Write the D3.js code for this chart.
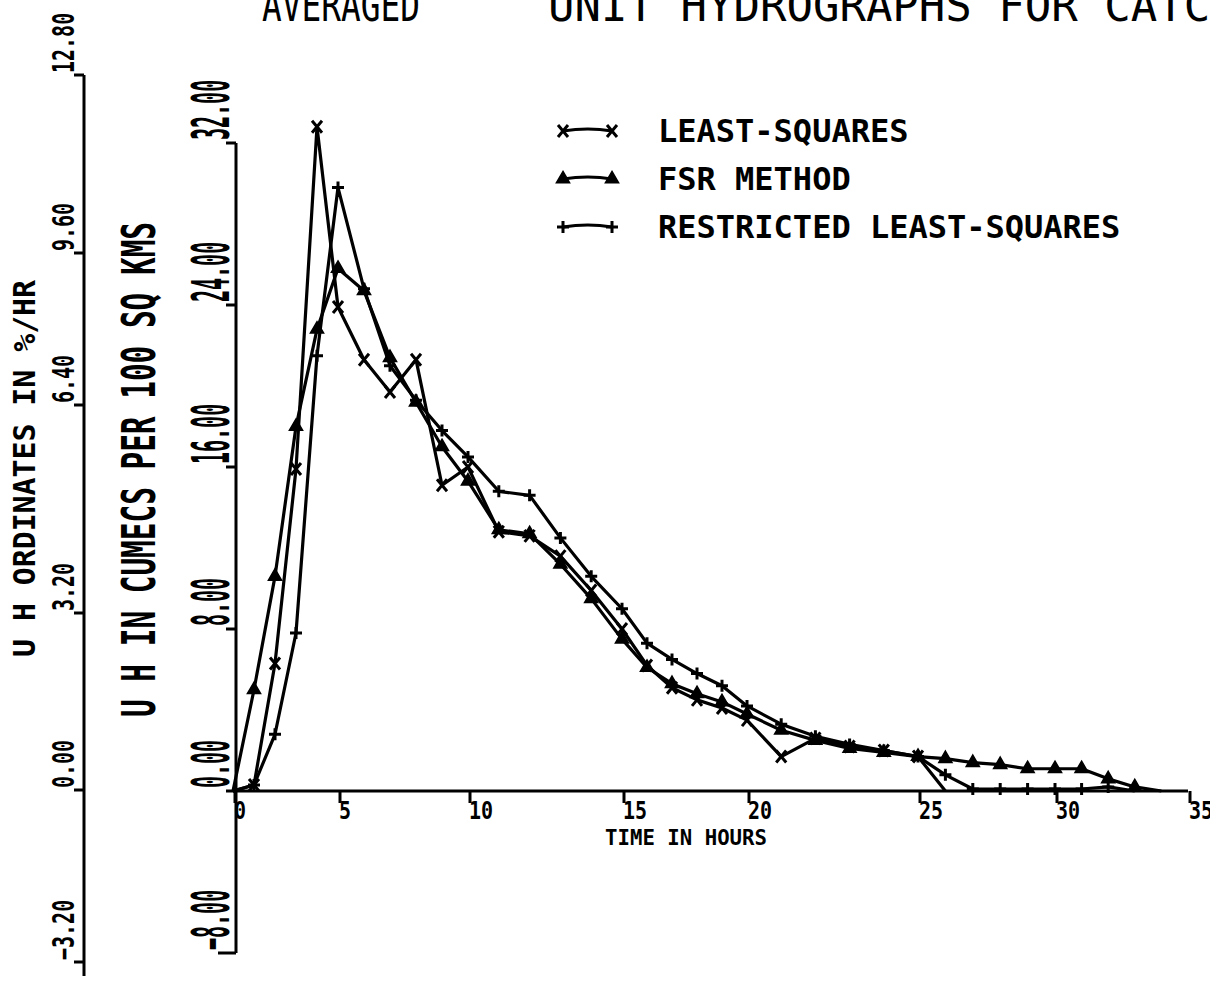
<!DOCTYPE html>
<html lang="en">
<head>
    <meta charset="UTF-8">
    <title>Averaged unit hydrographs</title>
    <script src="https://cdn.jsdelivr.net/npm/d3@7"></script>
    <style>
        body { margin: 0; background: #fff; }
        svg { display: block; }
        text { font-family: "DejaVu Sans Mono", monospace; fill: #000; }
    </style>
</head>
<body>
<svg width="1210" height="983"></svg>
<script>
    // hours at which the ordinates were read
    var hours = [0,1,2,3,4,5,6,7,8,9,10,11,12,13,14,15,16,17,18,19,20,21,22,23,24,25,26,27,28,29,30,31,32,33,34];

    // U H in cumecs per 100 sq kms
    var leastSquares = [0, 0.3, 6.3, 15.9, 32.8, 23.9, 21.3, 19.7, 21.3, 15.1, 16.0, 12.8, 12.6, 11.6, 9.9, 8.0,
        6.2, 5.1, 4.5, 4.1, 3.5, 1.7, 2.6, 2.2, 2.0, 1.7, 0];
    var fsrMethod = [0, 5.0, 10.6, 18.0, 22.8, 25.8, 24.7, 21.4, 19.2, 17.0, 15.3, 12.9, 12.7, 11.2, 9.5, 7.5,
        6.1, 5.3, 4.8, 4.4, 3.8, 3.0, 2.5, 2.1, 1.9, 1.7, 1.6, 1.4, 1.3, 1.1, 1.1, 1.1, 0.6, 0.2, 0];
    var restricted = [0, 0.3, 2.8, 7.8, 21.5, 29.8, 24.8, 21.0, 19.3, 17.8, 16.5, 14.8, 14.6, 12.5, 10.6, 9.0,
        7.3, 6.5, 5.8, 5.2, 4.2, 3.3, 2.7, 2.3, 2.0, 1.7, 0.8, 0.1, 0.1, 0.1, 0.1, 0.1, 0.2, 0];

    var xTicks = [0, 5, 10, 15, 20, 25, 30, 35];
    var yTicks = [-8, 0, 8, 16, 24, 32];
    var pctTicks = [-3.2, 0, 3.2, 6.4, 9.6, 12.8];

    var legendNames = ["LEAST-SQUARES", "FSR METHOD", "RESTRICTED LEAST-SQUARES"];
    var legendMarks = ["x", "tri", "plus"];

    var svg = d3.select("svg");

    // the plotter sheet is not quite even, so the scales follow the drawn ticks
    var x = d3.scaleLinear().domain(xTicks).range([233, 338, 468, 622, 747, 918, 1055, 1188]);
    var y = d3.scaleLinear().domain([-8, 32]).range([953, 143]);
    var yPct = d3.scaleLinear().domain(pctTicks).range([962, 790, 613, 405, 253, 75]);

    var ink = "#000";

    // title, cut at the top of the sheet
    svg.append("text").attr("x", 262).attr("y", 21)
        .attr("font-size", 44).attr("textLength", 158).attr("lengthAdjust", "spacingAndGlyphs")
        .text("AVERAGED");
    svg.append("text").attr("x", 548).attr("y", 21)
        .attr("font-size", 44)
        .text("UNIT HYDROGRAPHS FOR CATCHMENT");

    // outer axis : % per hour
    var outer = svg.append("g");
    outer.append("line").attr("x1", 84).attr("x2", 84)
        .attr("y1", yPct(12.8)).attr("y2", yPct(-3.2) + 14)
        .attr("stroke", ink).attr("stroke-width", 3);
    outer.selectAll(".tk").data(pctTicks).enter().append("line")
        .attr("x1", 74).attr("x2", 84)
        .attr("y1", function (d) { return yPct(d); })
        .attr("y2", function (d) { return yPct(d); })
        .attr("stroke", ink).attr("stroke-width", 3);
    outer.selectAll(".lb").data(pctTicks).enter().append("text")
        .attr("transform", function (d) { return "translate(74," + (yPct(d) - 2) + ") rotate(-90) scale(1,1.5)"; })
        .attr("font-size", 20).attr("font-weight", "bold")
        .text(function (d) { return d3.format(".2f")(d); });
    svg.append("text")
        .attr("transform", "translate(35,657) rotate(-90)")
        .attr("font-size", 30).attr("font-weight", "bold")
        .attr("textLength", 377).attr("lengthAdjust", "spacingAndGlyphs")
        .text("U H ORDINATES IN %/HR");

    // inner axis : cumecs
    var inner = svg.append("g");
    inner.append("line").attr("x1", 236).attr("x2", 236)
        .attr("y1", y(32)).attr("y2", y(-8))
        .attr("stroke", ink).attr("stroke-width", 3);
    inner.selectAll(".tk").data(yTicks).enter().append("line")
        .attr("x1", function (d) { return d == -8 ? 218 : 226; }).attr("x2", 236)
        .attr("y1", function (d) { return y(d); })
        .attr("y2", function (d) { return y(d); })
        .attr("stroke", ink).attr("stroke-width", 3);
    inner.selectAll(".lb").data(yTicks).enter().append("text")
        .attr("transform", function (d) { return "translate(229," + (y(d) - 3) + ") rotate(-90) scale(1,2.6)"; })
        .attr("font-size", 20).attr("font-weight", "bold")
        .text(function (d) { return d3.format(".2f")(d); });
    svg.append("text")
        .attr("transform", "translate(155,717) rotate(-90) scale(1,1.6)")
        .attr("font-size", 29).attr("font-weight", "bold")
        .attr("textLength", 495).attr("lengthAdjust", "spacingAndGlyphs")
        .text("U H IN CUMECS PER 100 SQ KMS");

    // time axis
    var base = svg.append("g");
    base.append("line").attr("x1", x(0)).attr("x2", x(35))
        .attr("y1", y(0)).attr("y2", y(0))
        .attr("stroke", ink).attr("stroke-width", 3);
    base.selectAll(".tk").data(xTicks).enter().append("line")
        .attr("x1", function (d) { return x(d) + 2; }).attr("x2", function (d) { return x(d) + 2; })
        .attr("y1", y(0)).attr("y2", y(0) + 12)
        .attr("stroke", ink).attr("stroke-width", 3);
    base.selectAll(".lb").data(xTicks).enter().append("text")
        .attr("transform", function (d) { return "translate(" + (x(d) + 1) + "," + (y(0) + 28) + ") scale(1,1.25)"; })
        .attr("font-size", 20).attr("font-weight", "bold")
        .text(function (d) { return d; });
    svg.append("text")
        .attr("transform", "translate(605,845) scale(1,1.1)")
        .attr("font-size", 19).attr("font-weight", "bold")
        .attr("textLength", 162).attr("lengthAdjust", "spacingAndGlyphs")
        .text("TIME IN HOURS");

    // markers
    function marker(g, kind, cx, cy) {
        if (kind == "x") {
            g.append("path").attr("d", "M" + (cx - 5) + "," + (cy - 6) + "L" + (cx + 5) + "," + (cy + 6) +
                "M" + (cx + 5) + "," + (cy - 6) + "L" + (cx - 5) + "," + (cy + 6))
                .attr("stroke", ink).attr("stroke-width", 3).attr("fill", "none");
        } else if (kind == "plus") {
            g.append("path").attr("d", "M" + (cx - 6) + "," + cy + "L" + (cx + 6) + "," + cy +
                "M" + cx + "," + (cy - 6) + "L" + cx + "," + (cy + 6))
                .attr("stroke", ink).attr("stroke-width", 3).attr("fill", "none");
        } else {
            g.append("path").attr("d", d3.symbol().type(d3.symbolTriangle).size(75)())
                .attr("transform", "translate(" + cx + "," + cy + ")")
                .attr("fill", ink).attr("stroke", ink).attr("stroke-width", 1.5);
        }
    }

    var line = d3.line()
        .x(function (d, i) { return x(hours[i]); })
        .y(function (d) { return y(d); });

    var series = [leastSquares, fsrMethod, restricted];
    var plot = svg.append("g");
    series.forEach(function (vals, k) {
        plot.append("path").attr("d", line(vals))
            .attr("fill", "none").attr("stroke", ink)
            .attr("stroke-width", 3.2).attr("stroke-linejoin", "round");
        var mg = plot.append("g");
        vals.forEach(function (v, i) {
            if (i == 0 || (v == 0 && i == vals.length - 1)) return;
            marker(mg, legendMarks[k], x(hours[i]), y(v));
        });
    });

    // legend
    var leg = svg.append("g");
    legendNames.forEach(function (name, k) {
        var ly = 131 + k * 48;
        leg.append("path").attr("d", "M563," + ly + "Q588," + (ly - 4) + " 612," + ly)
            .attr("fill", "none").attr("stroke", ink).attr("stroke-width", 3);
        marker(leg, legendMarks[k], 563, ly);
        marker(leg, legendMarks[k], 612, ly);
        leg.append("text").attr("x", 658).attr("y", ly + 11)
            .attr("font-size", 32).attr("font-weight", "bold")
            .text(name);
    });
</script>
</body>
</html>
